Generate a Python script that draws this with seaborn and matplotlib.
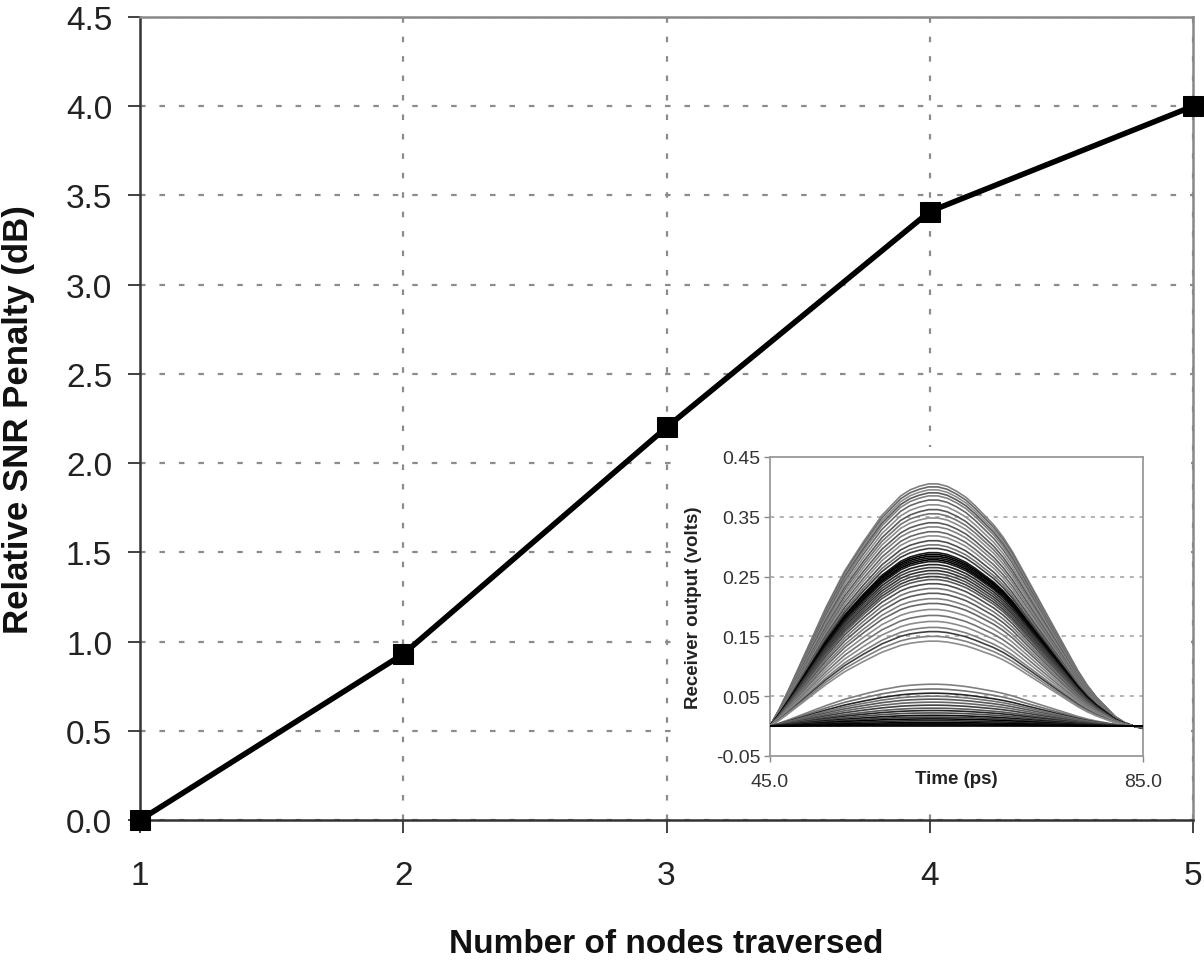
import numpy as np
import pandas as pd
import matplotlib.pyplot as plt
import seaborn as sns
from matplotlib.patches import Rectangle

# main curve: SNR penalty vs. nodes traversed
nodes = [1, 2, 3, 4, 5]
snr_penalty = [0.0, 0.93, 2.20, 3.41, 4.00]

# inset: received pulse shape, read every 1 ps off the traces (normalised to peak)
pulse_time = list(range(45, 86))
pulse_shape = [0.0, 0.07, 0.15, 0.235, 0.32, 0.405, 0.49, 0.565, 0.64, 0.70,
               0.76, 0.815, 0.87, 0.91, 0.95, 0.975, 0.99, 1.0, 1.0, 0.99,
               0.97, 0.945, 0.91, 0.87, 0.83, 0.78, 0.72, 0.65, 0.58, 0.51,
               0.44, 0.37, 0.30, 0.23, 0.17, 0.12, 0.08, 0.04, 0.015, 0.0, -0.01]

# peak amplitude of each trace (volts)
trace_peaks = [0.405, 0.400, 0.395, 0.390, 0.385, 0.378, 0.370, 0.362, 0.355, 0.348,
               0.340, 0.333, 0.325, 0.318, 0.310, 0.303, 0.297,
               0.290, 0.287, 0.284, 0.281, 0.278, 0.275, 0.270, 0.265, 0.260, 0.255,
               0.250, 0.245, 0.238, 0.230, 0.222, 0.213, 0.205, 0.195, 0.185, 0.175,
               0.165, 0.158, 0.150, 0.142,
               0.070, 0.062, 0.055, 0.050, 0.045, 0.040, 0.035, 0.030, 0.026, 0.022,
               0.018, 0.015, 0.012, 0.009, 0.006, 0.004, 0.002, 0.000]
trace_grays = [0.5, 0.4, 0.55, 0.35, 0.5, 0.4, 0.55, 0.35, 0.45, 0.55,
               0.35, 0.5, 0.4, 0.55, 0.3, 0.45, 0.25,
               0.1, 0.0, 0.0, 0.05, 0.0, 0.1, 0.15, 0.25, 0.2, 0.3,
               0.25, 0.35, 0.3, 0.45, 0.35, 0.5, 0.4, 0.55, 0.45, 0.55,
               0.5, 0.25, 0.5, 0.55,
               0.5, 0.45, 0.15, 0.45, 0.35, 0.4, 0.25, 0.35, 0.15, 0.3,
               0.05, 0.25, 0.0, 0.15, 0.0, 0.05, 0.0, 0.0]

sns.set_theme(style='white')
plt.rcParams['font.family'] = ['Liberation Sans', 'DejaVu Sans']
plt.rcParams['lines.scale_dashes'] = False

W, H = 1204, 962
fig = plt.figure(figsize=(W / 100, H / 100), dpi=100)

def fig_rect(x0, y0, x1, y1):
    """pixel box (top-left origin) -> figure fraction rect"""
    return [x0 / W, 1 - y1 / H, (x1 - x0) / W, (y1 - y0) / H]

# ---- main chart ----
ax = fig.add_axes(fig_rect(140, 18, 1193, 821))
main_df = pd.DataFrame({'nodes': nodes, 'penalty': snr_penalty})
sns.lineplot(data=main_df, x='nodes', y='penalty', ax=ax, color='black', lw=4,
             marker='s', markersize=14, markeredgecolor='black', clip_on=False, zorder=5)

ax.set_xlim(1, 5)
ax.set_ylim(0, 4.5)
ax.set_xticks(nodes)
ax.set_yticks(np.arange(0, 4.51, 0.5))
ax.yaxis.set_major_formatter(plt.FormatStrFormatter('%.1f'))
ax.grid(True, color='#8c8c8c', lw=1.6, linestyle=(0, (4, 10)))
ax.tick_params(axis='both', which='major', direction='out', length=9, width=1.3,
               color='#333333', labelsize=24, labelcolor='#222222', left=True, bottom=True)
ax.tick_params(axis='x', pad=20)
ax.tick_params(axis='y', pad=11)
for side in ['left', 'bottom']:
    ax.spines[side].set_color('#333333')
    ax.spines[side].set_linewidth(1.8)
for side in ['top', 'right']:
    ax.spines[side].set_color('#888888')
    ax.spines[side].set_linewidth(1.8)
ax.set_xlabel('Number of nodes traversed', fontsize=24, fontweight='bold', color='#111111')
ax.set_ylabel('Relative SNR Penalty (dB)', fontsize=25, fontweight='bold', color='#111111')
ax.xaxis.set_label_coords(0.5, (821 - 929) / (821 - 18))
ax.yaxis.set_label_coords((35 - 140) / (1193 - 140), 0.5)

# white chart area behind the inset
bg = Rectangle((672 / W, 1 - 806 / H), (1191 - 672) / W, (806 - 448) / H,
               transform=fig.transFigure, facecolor='white', edgecolor='none', zorder=3)
fig.patches.append(bg)

# ---- inset: receiver output traces ----
axin = fig.add_axes(fig_rect(770, 458, 1143, 757))
axin.set_zorder(4)
rows = []
for i, peak in enumerate(trace_peaks):
    for t, s in zip(pulse_time, pulse_shape):
        rows.append({'time': t, 'volts': peak * s, 'trace': f't{i:02d}'})
traces = pd.DataFrame(rows)
palette = [str(g) for g in trace_grays]
sns.lineplot(data=traces, x='time', y='volts', hue='trace', palette=palette,
             legend=False, lw=1.2, estimator=None, sort=False, ax=axin, zorder=3)

axin.set_xlim(45, 85)
axin.set_ylim(-0.05, 0.45)
axin.set_xticks([45, 85])
axin.set_xticklabels(['45.0', '85.0'])
axin.set_yticks([-0.05, 0.05, 0.15, 0.25, 0.35, 0.45])
axin.set_yticklabels(['-0.05', '0.05', '0.15', '0.25', '0.35', '0.45'])
for yv in [0.05, 0.15, 0.25, 0.35]:
    axin.axhline(yv, color='#a8a8a8', lw=1.2, linestyle=(0, (3, 4)), zorder=1)
axin.tick_params(axis='both', direction='out', length=4, width=1, color='#888888',
                 labelsize=14, labelcolor='#333333', left=True, bottom=True)
axin.tick_params(axis='x', pad=8)
axin.tick_params(axis='y', pad=3)
for side in axin.spines.values():
    side.set_color('#999999')
    side.set_linewidth(1.3)
axin.set_xlabel('Time (ps)', fontsize=13.5, fontweight='bold', color='#222222')
axin.set_ylabel('Receiver output (volts)', fontsize=13.5, fontweight='bold', color='#222222')
axin.xaxis.set_label_coords(0.5, (757 - 771) / (757 - 458))
axin.yaxis.set_label_coords((702 - 770) / (1143 - 770), 0.5)

fig.savefig('out.png', dpi=100)
